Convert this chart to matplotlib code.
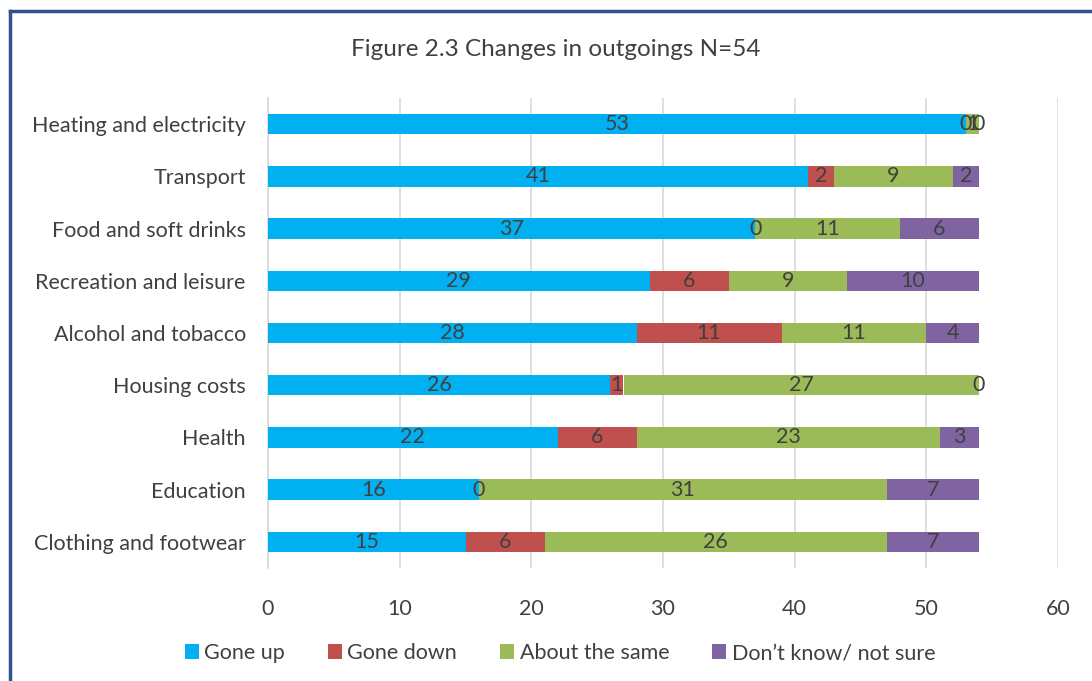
import matplotlib.pyplot as plt

categories = ["Heating and electricity", "Transport", "Food and soft drinks",
              "Recreation and leisure", "Alcohol and tobacco", "Housing costs",
              "Health", "Education", "Clothing and footwear"]
gone_up = [53, 41, 37, 29, 28, 26, 22, 16, 15]
gone_down = [0, 2, 0, 6, 11, 1, 6, 0, 6]
about_same = [1, 9, 11, 9, 11, 27, 23, 31, 26]
dont_know = [0, 2, 6, 10, 4, 0, 3, 7, 7]
series_names = ["Gone up", "Gone down", "About the same", "Don\u2019t know/ not sure"]
x_ticks = [0, 10, 20, 30, 40, 50, 60]

colors = ["#00B0F0", "#C0504D", "#9BBB59", "#8064A2"]
text_color = "#404040"
plt.rcParams['font.family'] = ['Lato', 'DejaVu Sans']
fs = 15.5

fig = plt.figure(figsize=(10.92, 6.81), dpi=100)
W, H = 1092, 681
ax = fig.add_axes([268 / W, 1 - 568 / H, (1058 - 268) / W, (568 - 98) / H])

series = [gone_up, gone_down, about_same, dont_know]
ypos = list(range(len(categories)))
left = [0] * len(categories)
for vals, col, name in zip(series, colors, series_names):
    ax.barh(ypos, vals, left=left, height=0.39, color=col, label=name, zorder=3)
    for y, l, v in zip(ypos, left, vals):
        ax.text(l + v / 2, y, str(v), ha='center', va='center', fontsize=fs,
                color=text_color, zorder=4)
    left = [a + b for a, b in zip(left, vals)]

ax.set_xlim(0, 60)
ax.set_ylim(len(categories) - 0.5, -0.5)
ax.set_xticks(x_ticks)
ax.set_xticklabels([str(t) for t in x_ticks], fontsize=fs, color=text_color)
ax.set_yticks(ypos)
ax.set_yticklabels(categories, fontsize=fs, color=text_color)
ax.tick_params(length=0, pad=16, axis='y')
ax.tick_params(length=0, pad=22, axis='x')
ax.xaxis.grid(True, color="#D9D9D9", linewidth=1.2, zorder=0)
for s in ['top', 'right', 'bottom']:
    ax.spines[s].set_visible(False)
ax.spines['left'].set_color("#D9D9D9")
ax.spines['left'].set_linewidth(1.2)

fig.text(556 / W, 1 - 50 / H, "Figure 2.3 Changes in outgoings N=54", ha='center',
         va='center', fontsize=17.5, color=text_color)

leg = fig.legend(loc='center', bbox_to_anchor=(560 / W, 1 - 653 / H), ncol=4,
                 frameon=False, fontsize=fs, handlelength=0.65, handleheight=0.65,
                 handletextpad=0.25, columnspacing=2.0)
for t in leg.get_texts():
    t.set_color(text_color)

# chart frame (top and left edges)
fig.add_artist(plt.Line2D([10 / W, 10 / W], [0, 1 - 11 / H], transform=fig.transFigure,
                          color="#2F528F", linewidth=2.5))
fig.add_artist(plt.Line2D([10 / W, 1], [1 - 11 / H, 1 - 11 / H], transform=fig.transFigure,
                          color="#2F528F", linewidth=2.5))

fig.savefig("out.png", dpi=100)
